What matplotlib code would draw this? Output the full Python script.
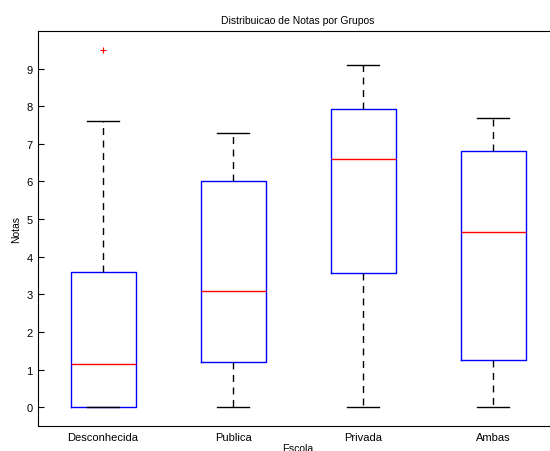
import matplotlib.pyplot as plt

plt.rcParams['font.family'] = ['Liberation Sans', 'DejaVu Sans']

grupos = ['Desconhecida', 'Publica', 'Privada', 'Ambas']
whis_lo = [0.0, 0.0, 0.0, 0.0]
q1 = [0.0, 1.2, 3.57, 1.25]
mediana = [1.15, 3.1, 6.6, 4.65]
q3 = [3.6, 6.0, 7.93, 6.8]
whis_hi = [7.6, 7.3, 9.1, 7.7]
outliers = [[9.5], [], [], []]

stats = []
for i in range(len(grupos)):
    stats.append({'label': grupos[i], 'whislo': whis_lo[i], 'q1': q1[i],
                  'med': mediana[i], 'q3': q3[i], 'whishi': whis_hi[i],
                  'fliers': outliers[i]})

fig = plt.figure(figsize=(5.5, 4.52), dpi=100)
# axes runs a bit past the right edge, like the original
ax = fig.add_axes([38/550, 25/452, 520/550, 395/452])

ax.bxp(stats, widths=0.5, showfliers=True,
       boxprops=dict(color='blue', linewidth=1),
       medianprops=dict(color='red', linewidth=1),
       whiskerprops=dict(color='black', linestyle=(0, (5, 4)), linewidth=1),
       capprops=dict(color='black', linewidth=1),
       capwidths=0.25,
       flierprops=dict(marker='+', markeredgecolor='red', markersize=5,
                       markeredgewidth=0.8, linestyle='none'))

ax.set_xlim(0.5, 4.5)
ax.set_ylim(-0.5, 10)
ax.set_yticks(range(10))
ax.spines['right'].set_visible(False)
ax.tick_params(axis='y', direction='in', length=4, labelsize=8, pad=4)
ax.tick_params(axis='x', length=0, labelsize=8, pad=4)

ax.set_title('Distribuicao de Notas por Grupos', fontsize=7.5, pad=6)
ax.set_xlabel('Escola', fontsize=7.5, labelpad=1)
ax.set_ylabel('Notas', fontsize=7.5, labelpad=4)

fig.savefig('out.png', dpi=100)
